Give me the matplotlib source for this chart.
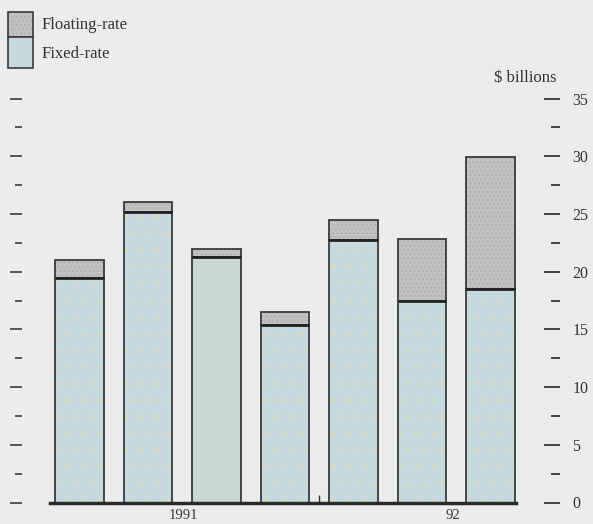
import matplotlib.pyplot as plt
from matplotlib.patches import Rectangle

# values ($ billions)
periods = ['Q1 91', 'Q2 91', 'Q3 91', 'Q4 91', 'Q1 92', 'Q2 92', 'Q3 92']
fixed_rate = [19.45, 25.2, 21.3, 15.4, 22.7, 17.5, 18.5]
floating_rate = [1.55, 0.8, 0.7, 1.1, 1.8, 5.3, 11.4]
year_labels = ['1991', '92']
year_pos = [1.52, 5.45]

bg = '#ececea'
fixed_col = '#c6d9de'
fixed_col3 = '#c8d8d3'
float_col = '#c2c2c2'
edge = '#3a3a3a'

plt.rcParams['font.family'] = ['Liberation Serif', 'DejaVu Serif']
plt.rcParams['hatch.linewidth'] = 1.0

fig = plt.figure(figsize=(5.93, 5.24), dpi=100, facecolor=bg)
ax = fig.add_axes([50 / 593, 21.5 / 524, 466 / 593, 404 / 524])
ax.set_facecolor(bg)

x = list(range(len(periods)))
w = 0.71
fills = [fixed_col3 if i == 2 else fixed_col for i in x]
dots = ['#c8d8d3' if i == 2 else '#d4dcc4' for i in x]

# fills with faint texture
ax.bar(x, fixed_rate, w, color=fills, edgecolor=dots, linewidth=0, hatch='.')
ax.bar(x, floating_rate, w, bottom=fixed_rate, color=float_col,
       edgecolor='#b2b2b2', linewidth=0, hatch='....')
# outlines
ax.bar(x, fixed_rate, w, fill=False, edgecolor=edge, linewidth=1.3)
ax.bar(x, floating_rate, w, bottom=fixed_rate, fill=False, edgecolor=edge, linewidth=1.3)
ax.hlines(fixed_rate, [i - w / 2 for i in x], [i + w / 2 for i in x],
          colors='#222222', linewidth=2)

ax.set_xlim(-0.43, 6.37)
ax.set_ylim(0, 35)

for s in ['top', 'right']:
    ax.spines[s].set_visible(False)
ax.spines['bottom'].set_linewidth(2.5)
ax.spines['bottom'].set_color('#2a2a2a')
ax.spines['left'].set_visible(False)
ax.spines['left'].set_position(('outward', 20))

ax.set_xticks([3.5])
ax.set_xticklabels([])
ax.tick_params(axis='x', direction='in', length=6, width=1, color='#333333')
for lab, px in zip(year_labels, year_pos):
    ax.text(px, -0.015, lab, transform=ax.get_xaxis_transform(), ha='center',
            va='top', fontsize=10.5, color='#333333')

ax.set_yticks(range(0, 36, 5))
ax.set_yticks([2.5 + 5 * k for k in range(7)], minor=True)
ax.set_yticklabels([])
ax.tick_params(axis='y', which='major', direction='out', length=8.6, width=1.4, color='#555555')
ax.tick_params(axis='y', which='minor', direction='out', length=5, width=1.4, color='#555555')

ax2 = ax.twinx()
ax2.set_ylim(0, 35)
for s in ['top', 'left', 'bottom']:
    ax2.spines[s].set_visible(False)
ax2.spines['right'].set_visible(False)
ax2.spines['right'].set_position(('outward', 31.7))
ax2.set_yticks(range(0, 36, 5))
ax2.set_yticks([2.5 + 5 * k for k in range(7)], minor=True)
ax2.tick_params(axis='y', which='major', direction='in', length=11.5, width=1.4,
                color='#444444', pad=9, labelsize=11.5, labelcolor='#333333')
ax2.tick_params(axis='y', which='minor', direction='in', length=6.5, width=1.4, color='#444444')

fig.text(556 / 593, 1 - 78 / 524, '$ billions', ha='right', va='center',
         fontsize=12, color='#333333')

# legend drawn as boxes
fig.patches.append(Rectangle((8 / 593, 1 - 37 / 524), 25 / 593, 25 / 524,
                             transform=fig.transFigure, facecolor=float_col,
                             edgecolor='#b2b2b2', linewidth=0, hatch='....'))
fig.patches.append(Rectangle((8 / 593, 1 - 37 / 524), 25 / 593, 25 / 524,
                             transform=fig.transFigure, fill=False,
                             edgecolor=edge, linewidth=1.2))
fig.patches.append(Rectangle((8 / 593, 1 - 68 / 524), 25 / 593, 31 / 524,
                             transform=fig.transFigure, facecolor=fixed_col,
                             edgecolor=edge, linewidth=1.2))
fig.text(42 / 593, 1 - 25 / 524, 'Floating-rate', ha='left', va='center',
         fontsize=12, color='#333333')
fig.text(42 / 593, 1 - 54 / 524, 'Fixed-rate', ha='left', va='center',
         fontsize=12, color='#333333')

plt.savefig('out.png', dpi=100, facecolor=bg)
